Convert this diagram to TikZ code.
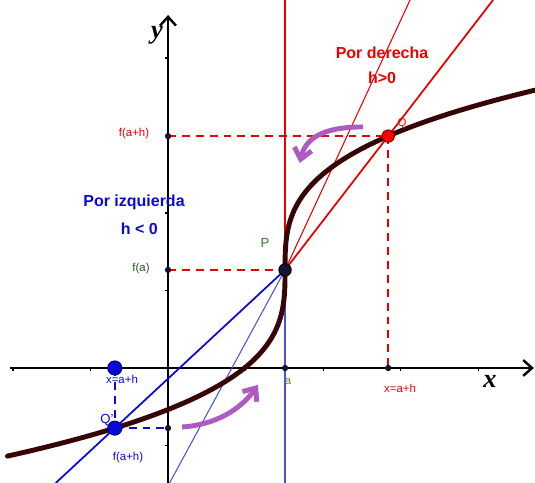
\documentclass[tikz,border=0pt]{standalone}
\usepackage{fontspec}
\setmainfont{Liberation Serif}
\setsansfont{Liberation Sans}
\usepackage{xcolor}
\usepackage{tikz}
\usetikzlibrary{positioning, arrows.meta, calc}

\definecolor{curvecol}{RGB}{55,5,5}
\definecolor{giro}{RGB}{172,92,192}
\definecolor{azul}{RGB}{10,10,215}
\definecolor{azulclaro}{RGB}{80,80,215}
\definecolor{verde}{RGB}{45,125,45}
\definecolor{rojo}{RGB}{235,0,0}
\definecolor{navy}{RGB}{20,20,50}

\begin{document}
\begin{tikzpicture}[
  x=1.55cm, y=1.55cm,
  axis/.style={line width=1.4pt, -{Straight Barb[length=5pt,width=9pt]}},
  curva/.style={line width=2.8pt, color=curvecol, line cap=round},
  secant/.style={line width=1pt},
  thinsec/.style={line width=0.6pt},
  guide/.style={dash pattern=on 4.5pt off 3.4pt, line width=1.1pt},
  punto/.style={circle, inner sep=0pt, minimum size=3.6pt, fill=navy},
  gordo/.style={circle, inner sep=0pt, minimum size=7pt, draw, line width=0.6pt},
  small/.style={font=\sffamily\fontsize{6.5}{7}\selectfont},
  big/.style={font=\sffamily\bfseries\fontsize{9.1}{11}\selectfont},
  giroarrow/.style={line width=2.8pt, color=giro,
    -{Straight Barb[length=6pt,width=10pt]}},
]
  \useasboundingbox (-2.168,-1.484) rectangle (4.735,4.748);

  % puntos de la figura
  \coordinate (O)    at (0,0);
  \coordinate (P)    at (1.51,1.265);
  \coordinate (R)    at (2.841,2.992);
  \coordinate (Q)    at (-0.687,-0.776);
  \coordinate (xR)   at (2.841,0);
  \coordinate (xQ)   at (-0.687,0);
  \coordinate (xa)   at (1.51,0);
  \coordinate (fa)   at (0,1.265);
  \coordinate (fah)  at (0,2.992);
  \coordinate (fQ)   at (0,-0.776);
  \coordinate (topA) at (4.194,4.748);
  \coordinate (topB) at (3.123,4.748);
  \coordinate (topV) at (1.51,4.748);
  \coordinate (botA) at (-1.449,-1.484);
  \coordinate (botB) at (0.02,-1.484);
  \coordinate (botV) at (1.51,-1.484);
  \coordinate (xL)   at (-2.04,0);
  \coordinate (xE)   at (4.72,0);
  \coordinate (yB)   at (0,-1.484);
  \coordinate (yE)   at (0,4.555);

  % ejes
  \draw[axis] (xL) -- (xE);
  \draw[axis] (yB) -- (yE);
  \foreach \t in {-2,-1,1,2,3,4} \draw[line width=0.6pt] (\t,0) -- (\t,-0.045);
  \foreach \t in {-1,1,2,3,4} \draw[line width=0.6pt] (0,\t) -- (-0.045,\t);

  % secantes
  \draw[rojo, line width=0.8pt] (P) -- (topV);
  \draw[rojo, secant] (P) -- (topA);
  \draw[rojo, thinsec] (P) -- (topB);
  \draw[azulclaro, line width=0.8pt] (P) -- (botV);
  \draw[azul, secant] (P) -- (botA);
  \draw[azulclaro, thinsec] (P) -- (botB);

  % guias
  \draw[rojo, guide] (fa) -- (P);
  \draw[rojo, guide] (fah) -- (R);
  \draw[rojo, guide] (R) -- (xR);
  \draw[azul, guide] (xQ) -- (Q);
  \draw[azul, guide] (Q) -- (fQ);

  % curva
  \draw[curva] plot[domain=-1.53:1.48, samples=120, smooth]
    ({1.51+\x*\x*\x}, {1.265+1.57*\x});

  % flechas de giro
  \draw[giroarrow] (2.516,3.110) .. controls (1.961,3.110) and (1.768,2.942) .. (1.70,2.645);
  \draw[giroarrow] (0.181,-0.761) .. controls (0.606,-0.735) and (0.929,-0.542) .. (1.161,-0.219);

  % puntos
  \node[punto] (dfa)  at (fa)  {};
  \node[punto] (dfah) at (fah) {};
  \node[punto] (dxR)  at (xR)  {};
  \node[punto] (dxa)  at (xa)  {};
  \node[punto] (dfQ)  at (fQ)  {};
  \node[gordo, fill=navy, draw=black, minimum size=7pt] (dP) at (P) {};
  \node[gordo, fill=red, draw=rojo!60!black] (dR) at (R) {};
  \node[gordo, fill=azul, draw=azul!60!black, minimum size=8pt] (dQ) at (Q) {};
  \node[gordo, fill=azul, draw=azul!60!black, minimum size=8pt] (dxQ) at (xQ) {};

  % textos
  \node[font=\bfseries\itshape\fontsize{15}{16}\selectfont] (ylab) at (-0.142,4.297) {y};
  \node[font=\bfseries\itshape\fontsize{15}{16}\selectfont] (xlab) at (4.155,-0.168) {x};
  \node[big, text=rojo] (der) at (2.761,4.065) {Por derecha};
  \node[big, text=rojo, below=0.5pt of der] (hpos) {h>0};
  \node[big, text=azul] (izq) at (-0.439,2.142) {Por izquierda};
  \node[big, text=azul, below=0.5pt of izq, xshift=3pt] (hneg) {h < 0};
  \node[small, text=verde, font=\sffamily\fontsize{7.5}{8}\selectfont] (Plab) at (1.252,1.613) {P};
  \node[small, text=verde!70!black] (falab) at (-0.348,1.277) {f(a)};
  \node[small, text=rojo] (fahlab) at (-0.439,3.019) {f(a+h)};
  \node[small, text=azul] (xQlab) at (-0.594,-0.142) {x=a+h};
  \node[small, text=verde!80!lime] (alab) at (1.548,-0.168) {a};
  \node[small, text=rojo] (xRlab) at (2.994,-0.258) {x=a+h};
  \node[small, text=azul, font=\sffamily\fontsize{7.5}{8}\selectfont] (Qlab) at (-0.787,-0.671) {Q'};
  \node[small, text=azul] (fQlab) at (-0.516,-1.161) {f(a+h)};
  \node[small, text=rojo] (Rlab) at (3.019,3.148) {Q};
\end{tikzpicture}
\end{document}
